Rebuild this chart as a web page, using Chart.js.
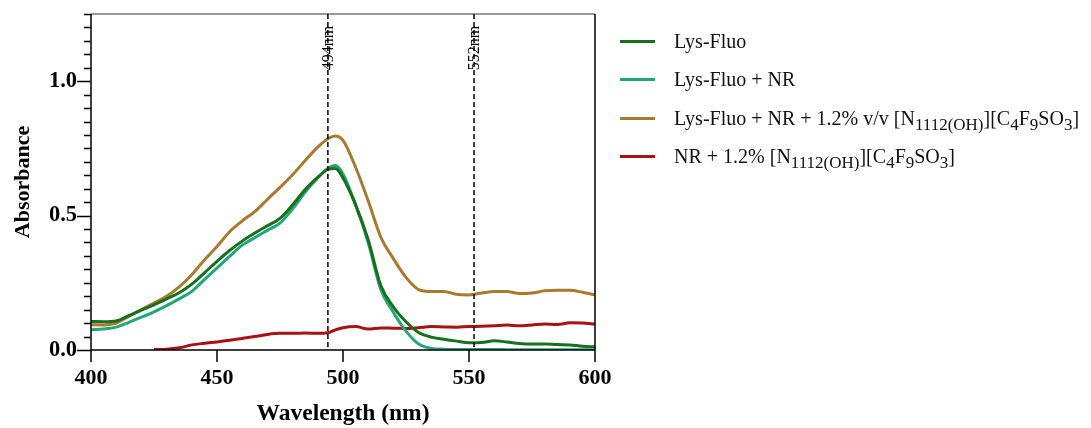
<!DOCTYPE html>
<html>
<head>
<meta charset="utf-8">
<script src="https://cdn.jsdelivr.net/npm/chart.js@4.4.1/dist/chart.umd.min.js"></script>
<style>
  body { margin: 0; background: #fff; }
  #wrap { position: relative; width: 1091px; height: 428px; }
  #legend {
    position: absolute; left: 620px; top: 22px;
    font-family: "Liberation Serif", "Times New Roman", serif;
    font-size: 20px; color: #111;
  }
  .row { display: flex; align-items: center; height: 38.5px; white-space: nowrap; }
  .swatch { width: 35px; height: 3px; margin-right: 19px; flex: none; }
  .row sub { font-size: 17px; vertical-align: -5px; line-height: 0; }
</style>
</head>
<body>
<div id="wrap">
  <canvas id="chart" width="1091" height="428"></canvas>
  <div id="legend"></div>
</div>
<script>
const SERIF = '"Liberation Serif", "Times New Roman", serif';

// wavelength grid (nm) shared by all spectra
const wavelengths = [400, 405, 410, 415, 420, 425, 430, 435, 440, 445, 450, 455, 460, 465, 470,
  475, 480, 485, 490, 494, 497, 500, 505, 510, 515, 520, 525, 530, 535, 540, 545, 550, 555, 560,
  565, 570, 575, 580, 585, 590, 595, 600];

const lysFluo = [0.106, 0.105, 0.108, 0.128, 0.148, 0.168, 0.190, 0.213, 0.245, 0.287, 0.330,
  0.370, 0.405, 0.435, 0.462, 0.490, 0.540, 0.597, 0.643, 0.672, 0.675, 0.640, 0.540, 0.410,
  0.240, 0.160, 0.105, 0.065, 0.048, 0.040, 0.033, 0.027, 0.028, 0.034, 0.030, 0.024, 0.022,
  0.022, 0.020, 0.019, 0.014, 0.012];

const lysFluoNR = [0.075, 0.078, 0.085, 0.103, 0.122, 0.142, 0.165, 0.190, 0.218, 0.262, 0.305,
  0.348, 0.390, 0.418, 0.445, 0.472, 0.525, 0.588, 0.640, 0.675, 0.686, 0.655, 0.540, 0.400,
  0.225, 0.140, 0.070, 0.022, 0.006, 0.003, 0.002, 0.002, 0.002, 0.002, 0.001, 0.001, 0.001,
  0.001, 0.001, 0.001, 0.001, 0.001];

const lysFluoNRIL = [0.094, 0.093, 0.100, 0.125, 0.150, 0.175, 0.200, 0.235, 0.280, 0.335, 0.385,
  0.440, 0.480, 0.515, 0.560, 0.605, 0.652, 0.705, 0.755, 0.786, 0.796, 0.780, 0.680, 0.555,
  0.420, 0.340, 0.270, 0.225, 0.218, 0.218, 0.207, 0.205, 0.212, 0.218, 0.218, 0.210, 0.212,
  0.220, 0.222, 0.222, 0.215, 0.205];

const nrIL = [null, null, null, null, null, 0.002, 0.003, 0.008, 0.019, 0.025, 0.030, 0.036,
  0.043, 0.050, 0.058, 0.062, 0.062, 0.063, 0.062, 0.064, 0.075, 0.083, 0.087, 0.078, 0.082,
  0.081, 0.080, 0.083, 0.087, 0.086, 0.085, 0.087, 0.088, 0.090, 0.093, 0.090, 0.093, 0.097,
  0.095, 0.101, 0.100, 0.097];

const seriesLabels = [
  'Lys-Fluo',
  'Lys-Fluo + NR',
  'Lys-Fluo + NR + 1.2% v/v [N<sub>1112(OH)</sub>][C<sub>4</sub>F<sub>9</sub>SO<sub>3</sub>]',
  'NR + 1.2% [N<sub>1112(OH)</sub>][C<sub>4</sub>F<sub>9</sub>SO<sub>3</sub>]'
];
const seriesColors = ['#17701c', '#20a87a', '#a97a2c', '#a81212'];
const seriesValues = [lysFluo, lysFluoNR, lysFluoNRIL, nrIL];

// marked absorbance maxima
const markers = [494, 552];

const isMajor = v => Math.abs(v * 2 - Math.round(v * 2)) < 1e-6;

const axisFrame = {
  id: 'axisFrame',
  afterDraw(chart) {
    const { ctx, chartArea: { left, right, top, bottom }, scales: { x, y } } = chart;
    ctx.save();
    ctx.lineWidth = 1.5;
    ctx.strokeStyle = '#777';
    ctx.beginPath();
    ctx.moveTo(left, top); ctx.lineTo(right, top);
    ctx.stroke();

    ctx.strokeStyle = '#000';
    ctx.beginPath();
    ctx.moveTo(left, top); ctx.lineTo(left, bottom);
    ctx.moveTo(left, bottom); ctx.lineTo(right, bottom);
    ctx.moveTo(right, top); ctx.lineTo(right, bottom);
    y.ticks.forEach(t => {
      const py = Math.round(y.getPixelForValue(t.value)) + 0.5;
      const len = isMajor(t.value) ? 14 : 7;
      ctx.moveTo(left - len, py); ctx.lineTo(left, py);
    });
    x.ticks.forEach(t => {
      const px = x.getPixelForValue(t.value);
      ctx.moveTo(px, bottom); ctx.lineTo(px, bottom + 12);
    });
    ctx.stroke();

    // dashed marker lines with rotated captions
    ctx.lineWidth = 1.5;
    ctx.setLineDash([5, 3]);
    markers.forEach(m => {
      const px = x.getPixelForValue(m);
      ctx.beginPath();
      ctx.moveTo(px, top); ctx.lineTo(px, bottom);
      ctx.stroke();
    });
    ctx.setLineDash([]);
    ctx.fillStyle = '#000';
    ctx.font = '16px ' + SERIF;
    ctx.textAlign = 'center';
    ctx.textBaseline = 'middle';
    markers.forEach(m => {
      const px = x.getPixelForValue(m);
      ctx.save();
      ctx.translate(px + 1, top + 34);
      ctx.rotate(-Math.PI / 2);
      ctx.fillText(m + 'nm', 0, 0);
      ctx.restore();
    });
    ctx.restore();
  }
};

const chart = new Chart(document.getElementById('chart'), {
  type: 'line',
  data: {
    datasets: seriesValues.map((vals, i) => ({
      label: seriesLabels[i].replace(/<[^>]+>/g, ''),
      data: wavelengths.map((w, j) => ({ x: w, y: vals[j] })),
      borderColor: seriesColors[i],
      backgroundColor: seriesColors[i],
      borderWidth: 3,
      pointRadius: 0,
      fill: false,
      cubicInterpolationMode: 'monotone'
    }))
  },
  options: {
    responsive: false,
    animation: false,
    layout: { padding: { left: 0, right: 496, top: 14, bottom: 0 } },
    plugins: { legend: { display: false }, tooltip: { enabled: false } },
    scales: {
      x: {
        type: 'linear', min: 400, max: 600,
        ticks: {
          stepSize: 50, padding: 15, autoSkip: false, maxRotation: 0, color: '#000',
          font: { family: SERIF, size: 22, weight: 'bold' }
        },
        grid: { display: false, drawTicks: false },
        border: { display: false },
        title: {
          display: true, text: 'Wavelength (nm)', color: '#000',
          font: { family: SERIF, size: 23.5, weight: 'bold' },
          padding: { top: 0, bottom: 0 }
        },
        afterFit(scale) { scale.height = 78; }
      },
      y: {
        min: 0, max: 1.25,
        ticks: {
          stepSize: 0.05, padding: 0, autoSkip: false, color: '#000',
          font: { family: SERIF, size: 22.5, weight: 'bold' },
          callback: v => isMajor(v) ? v.toFixed(1) : ''
        },
        // hidden tick marks only reserve the gap between labels and axis
        grid: { display: false, drawTicks: true, tickLength: 14 },
        border: { display: false },
        title: {
          display: true, text: 'Absorbance', color: '#000',
          font: { family: SERIF, size: 22, weight: 'bold' },
          padding: { top: 10, bottom: 0 }
        },
        afterFit(scale) { scale.width = 91; }
      }
    }
  },
  plugins: [axisFrame]
});

// legend with sub-scripted formulas
const legend = document.getElementById('legend');
chart.data.datasets.forEach((ds, i) => {
  const row = document.createElement('div');
  row.className = 'row';
  row.innerHTML = '<span class="swatch" style="background:' + ds.borderColor + '"></span><span>' +
    seriesLabels[i] + '</span>';
  legend.appendChild(row);
});
</script>
</body>
</html>
